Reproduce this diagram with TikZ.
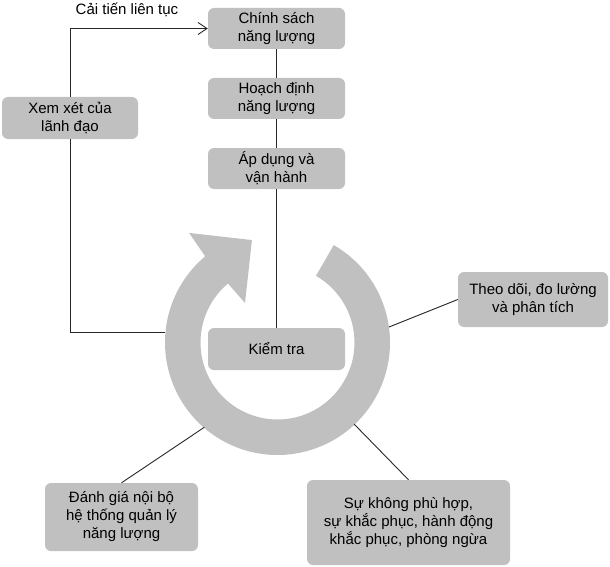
\documentclass[tikz,border=0pt]{standalone}
\usepackage{fontspec}
\setmainfont{Liberation Sans}
\usetikzlibrary{arrows.meta}
\definecolor{boxgray}{RGB}{192,192,192}
\definecolor{linegray}{RGB}{40,40,40}
\tikzset{
  box/.style={fill=boxgray, rounded corners=6pt, align=center, inner sep=0pt,
    font=\fontsize{15}{18}\selectfont},
  conn/.style={draw=linegray, line width=0.9pt},
}
\begin{document}
\begin{tikzpicture}[x=1pt,y=-1pt]
\useasboundingbox (0,0) rectangle (610,567);
% ring arrow
\begin{scope}[shift={(277.5,342.5)}, yscale=-1]
  \fill[boxgray] (60:112.5) arc[start angle=60, end angle=-230, radius=112.5]
    -- (128.9:140.8) -- (104:105.6) -- (129.4:51.2) -- (130:77)
    arc[start angle=130, end angle=420, radius=77] -- cycle;
  \coordinate (pL) at (175:112.5);
  \coordinate (pR) at (7.9:112.5);
  \coordinate (pDL) at (229.2:112);
  \coordinate (pDR) at (-46.8:112);
\end{scope}
% boxes
\node[box, minimum width=137pt, minimum height=41pt] (cs) at (276.5,28.5) {Chính sách\\năng lượng};
\node[box, minimum width=137pt, minimum height=41pt] (hd) at (276.5,98.5) {Hoạch định\\năng lượng};
\node[box, minimum width=137pt, minimum height=41pt] (ad) at (276.5,168.5) {Áp dụng và\\vận hành};
\node[box, minimum width=136pt, minimum height=42pt] (xx) at (70,118) {Xem xét của\\lãnh đạo};
\node[box, minimum width=137pt, minimum height=42pt] (kt) at (276.5,349) {Kiểm tra};
\node[box, minimum width=150pt, minimum height=55pt] (td) at (533,299.5) {Theo dõi, đo lường\\và phân tích};
\node[box, minimum width=153pt, minimum height=68pt] (dg) at (121.5,517) {Đánh giá nội bộ\\hệ thống quản lý\\năng lượng};
\node[box, minimum width=203pt, minimum height=85pt] (sk) at (408.5,522.5) {Sự không phù hợp,\\sự khắc phục, hành động\\khắc phục, phòng ngừa};
\node[font=\fontsize{15}{18}\selectfont, inner sep=0pt] (ct) at (127,10) {Cải tiến liên tục};
% connectors
\draw[conn] (cs) -- (hd);
\draw[conn] (hd) -- (ad);
\draw[conn] (ad) -- (kt);
\draw[conn, -{Straight Barb[length=9pt,width=12pt]}] (xx.north) |- (cs.west);
\draw[conn] (xx.south) |- (pL);
\draw[conn] (pR) -- (td.west);
\draw[conn] (pDL) -- (dg.north);
\draw[conn] (pDR) -- (sk.north);
\end{tikzpicture}
\end{document}
